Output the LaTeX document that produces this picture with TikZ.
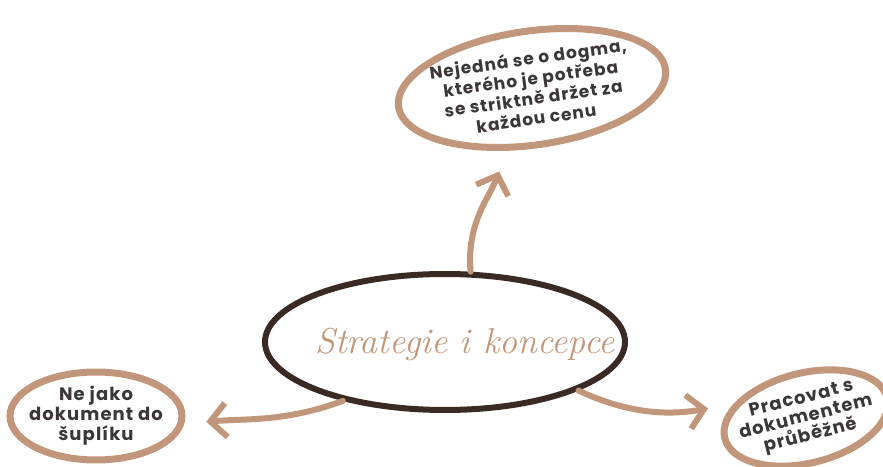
\documentclass[tikz,border=0pt]{standalone}
\usepackage{fontspec}
\newfontfamily\ideafont{Poppins}[LetterSpace=6]
\usetikzlibrary{arrows.meta, positioning, shapes.geometric, backgrounds}
\definecolor{brushtan}{RGB}{194,150,122}
\definecolor{darkbrown}{RGB}{58,42,36}
\definecolor{inktext}{RGB}{60,54,54}
\tikzset{
  idea/.style={draw=brushtan, ellipse, line width=7pt, inner sep=-4pt, align=center,
    text=inktext, font=\ideafont\bfseries\fontsize{17}{20}\selectfont},
  core/.style={draw=darkbrown, ellipse, line width=6pt, minimum width=360pt, minimum height=136pt},
  arr/.style={-{Straight Barb[length=16pt, width=34pt]}, line width=6pt, draw=brushtan, line cap=round},
}

\begin{document}
\begin{tikzpicture}[x=1pt, y=1pt,
      title/.style={text=brushtan, font=\itshape\fontsize{36}{40}\selectfont}]
    \useasboundingbox (0,0) rectangle (883,466);
    \node[core] (strat) at (445,124) {};
    \node[title] (stitle) at (465,122) {Strategie i koncepce};
    \node[idea, rotate=8, minimum width=264pt, minimum height=114pt] (dogma) at (532,378)
      {Nejedná se o dogma,\\ kterého je potřeba\\ se striktně držet za\\ každou cenu};
    \node[idea, font=\ideafont\bfseries\fontsize{18}{20}\selectfont, inner sep=-9pt,
      minimum width=172pt, minimum height=88pt] (suplik) at (96,50)
      {Ne jako\\ dokument do\\ šuplíku};
    \node[idea, font=\ideafont\bfseries\fontsize{18}{19}\selectfont, rotate=14, inner sep=-9pt,
      minimum width=164pt, minimum height=90pt] (prubezne) at (806,48)
      {Pracovat s\\ dokumentem\\ průběžně};
    \draw[arr, shorten >=22pt] (strat.70) to[out=95, in=250] (dogma.240);
    \draw[arr, shorten >=22pt] (strat.210) to[out=200, in=5] (suplik.-5);
    \draw[arr, shorten >=26pt] (strat.340) to[out=-25, in=190] (prubezne.155);
  \end{tikzpicture}
\end{document}
